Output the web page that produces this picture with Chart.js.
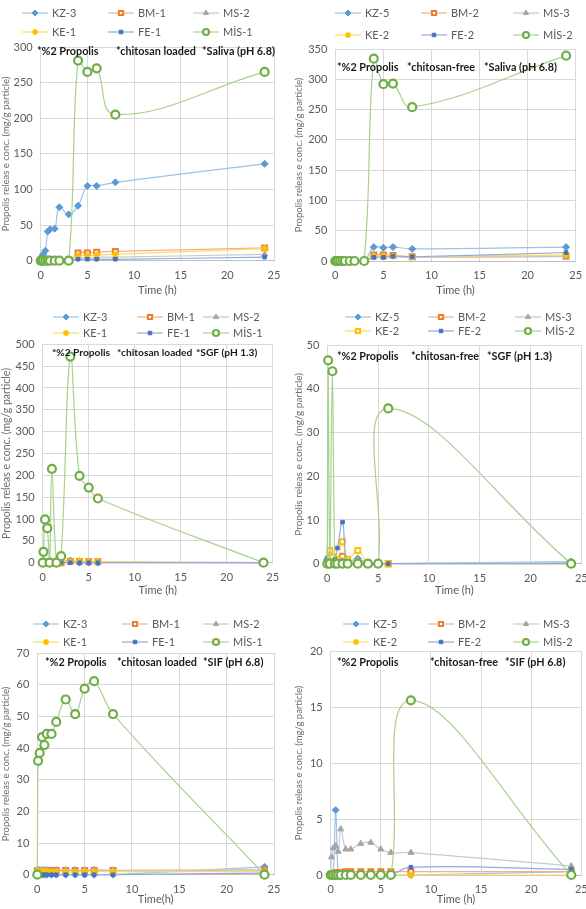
<!DOCTYPE html>
<html>
<head>
<meta charset="utf-8">
<script src="https://cdn.jsdelivr.net/npm/chart.js@4.4.1/dist/chart.umd.min.js"></script>
<style>
  html, body { margin: 0; padding: 0; background: #fff; }
  #page { position: relative; width: 586px; height: 909px; overflow: hidden; }
  #page canvas { position: absolute; }
</style>
</head>
<body>
<div id="page"></div>
<script>
// sampling times (h)
const timeFull = [0, 0.083, 0.25, 0.5, 0.75, 1, 1.5, 2, 3, 4, 5, 6, 8, 24];
const timeSGF = [0, 0.083, 0.25, 0.5, 0.75, 1, 1.5, 2, 3, 4, 5, 6, 24];

const loadedNames = ['KZ-3', 'BM-1', 'MS-2', 'KE-1', 'FE-1', 'MİS-1'];
const freeNames = ['KZ-5', 'BM-2', 'MS-3', 'KE-2', 'FE-2', 'MİS-2'];

const xTicks = [0, 5, 10, 15, 20, 25];
const yMax = [300, 350, 500, 50, 70, 20];
const yStep = [50, 50, 50, 10, 10, 5];

// values per panel, one row per series in the order of the names above
const salivaLoaded = [
  [0, 5, 9, 14, 41, 44, 45, 75, 65, 77, 105, 105, 110, 136],
  [0, 0, 0, 0, 0, 0, 0, 0, 0, 11, 11, 12, 13, 18],
  [0, 0, 0, 0, 0, 0, 0, 0, 0, 4, 4, 5, 5, 9],
  [0, 0, 0, 0, 0, 0, 0, 0, 0, 7, 7, 8, 9, 17],
  [0, 0, 0, 0, 0, 0, 0, 0, 0, 2, 2, 2, 2, 5],
  [0, 0, 0, 0, 0, 0, 0, 0, 0, 281, 265, 270, 205, 265]
];
const salivaFree = [
  [0, 0, 0, 0, 0, 0, 0, 0, 0, 23, 22, 23, 20, 23],
  [0, 0, 0, 0, 0, 0, 0, 0, 0, 10, 10, 9, 7, 8],
  [0, 0, 0, 0, 0, 0, 0, 0, 0, 6, 6, 7, 6, 7],
  [0, 0, 0, 0, 0, 0, 0, 0, 0, 8, 8, 8, 7, 10],
  [0, 0, 0, 0, 0, 0, 0, 0, 0, 6, 6, 8, 7, 14],
  [0, 0, 0, 0, 0, 0, 0, 0, 0, 334, 292, 293, 254, 339]
];
const sgfLoaded = [
  [3, 4, 3, 2, 1, 2, 1, 1, 5, 0, 0, 0, 0],
  [0, 0, 0, 0, 0, 0, 0, 0, 3, 3, 2, 2, 0],
  [1, 1, 1, 1, 1, 1, 1, 1, 2, 1, 1, 1, 0],
  [0, 0, 0, 0, 0, 0, 0, 0, 2, 5, 2, 2, 0],
  [0, 0, 0, 0, 0, 0, 0, 0, 0, 0, 0, 0, 0],
  [0, 25, 99, 79, 0, 215, 0, 15, 472, 199, 172, 147, 0]
];
const sgfFree = [
  [1, 1.5, 0.5, 0.3, 0.2, 0.3, 1, 0.3, 1.2, 0, 0, 0, 0.5],
  [0, 0, 0.3, 1, 0.3, 0.3, 1.7, 0.5, 0, 0, 0, 0, 0],
  [0.3, 0.5, 1, 0.5, 0.5, 0.5, 0.5, 0.5, 1, 0, 0, 0, 0.3],
  [0, 0, 3, 1.5, 0.5, 1, 5, 1, 3, 0, 0, 0, 0],
  [0, 0, 0, 0.5, 1, 3.6, 9.5, 0, 0, 0, 0, 0, 0],
  [0, 46.5, 0, 44, 0, 0, 0, 0, 0, 0, 0, 35.5, 0]
];
const sifLoaded = [
  [0, 0, 0, 0, 0, 0, 0, 0, 0, 0, 0, 0, 0, 2.5],
  [1.2, 1.2, 1.2, 1.2, 1.2, 1.3, 1.3, 1.3, 1.3, 1.3, 1.3, 1.3, 1.3, 1.5],
  [1.5, 1.5, 1.5, 1.5, 1.5, 1.5, 1.5, 1.5, 1.5, 1.5, 1.5, 1.6, 1.4, 1.5],
  [1, 1, 1, 1, 1, 1, 1, 1, 1, 0.8, 1, 1, 1, 1],
  [0, 0, 0, 0, 0, 0, 0, 0, 0, 0, 0, 0, 0, 0.5],
  [0, 36, 38.5, 43.5, 41, 44.5, 44.5, 48.3, 55.4, 50.8, 58.8, 61.2, 50.8, 0]
];
const sifFree = [
  [0, 0, 0, 5.8, 0, 0, 0, 0, 0, 0, 0, 0, 0, 0.3],
  [0, 0, 0.1, 0.2, 0.2, 0.2, 0.3, 0.3, 0.3, 0.3, 0.3, 0.3, 0.3, 0.3],
  [0, 1.6, 2.4, 2.6, 2.1, 4.1, 2.3, 2.3, 2.8, 2.9, 2.3, 2.0, 2.0, 0.8],
  [0, 0, 0, 0, 0, 0, 0, 0, 0, 0, 0, 0, 0, 0],
  [0, 0, 0, 0, 0, 0, 0, 0, 0, 0, 0, 0, 0.7, 0.5],
  [0, 0, 0, 0, 0, 0, 0, 0, 0, 0, 0, 0, 15.6, 0]
];

// series look (Excel office palette)
const markerColors = ['#5B9BD5', '#ED7D31', '#A5A5A5', '#FFC000', '#4472C4', '#70AD47'];
const lineColors = ['#9DC3E6', '#F4B183', '#C9C9C9', '#FFD966', '#8FAADC', '#A9D18E'];
const markerStyles = ['rectRot', 'rect', 'triangle', 'star', 'rect', 'circle'];
const markerSizes = [3.5, 3.5, 3.5, 3.5, 2.5, 4];
const markerFill = ['#5B9BD5', '#fff', '#A5A5A5', '#FFC000', '#4472C4', '#fff'];
const markerBorder = [1, 2, 1, 1.5, 1, 2.2];

const FONT = 'Lato, "Liberation Sans", sans-serif';
const yTitle = 'Propolis releas e conc. (mg/g particle)';

const panels = [
  { cell: [0, 0, 293, 300], plot: [40.7, 47, 274, 260.7], names: loadedNames, time: timeFull, values: salivaLoaded,
    xTitle: 'Time (h)', notes: [['*%2 Propolis', 37], ['*chitosan loaded', 116], ['*Saliva (pH 6.8)', 202]], noteY: 52,
    noteSize: 10.8, legCols: [22, 108, 193], legRows: [13, 32], yTitleSize: 9.5 },
  { cell: [293, 0, 307, 300], plot: [335.3, 49, 575.7, 261], names: freeNames, time: timeFull, values: salivaFree,
    xTitle: 'Time (h)', notes: [['*%2 Propolis', 337], ['*chitosan-free', 407], ['*Saliva (pH 6.8)', 484]], noteY: 68,
    noteSize: 10.8, legCols: [335, 421, 513], legRows: [13, 35], yTitleSize: 9.5 },
  { cell: [0, 300, 293, 300], plot: [42.7, 344.3, 272.7, 562.7], names: loadedNames, time: timeSGF, values: sgfLoaded,
    xTitle: 'Time (h)', notes: [['*%2 Propolis', 52], ['*chitosan loaded', 117], ['*SGF (pH 1.3)', 196]], noteY: 353,
    noteSize: 10.2, legCols: [53, 137, 203], legRows: [317, 333], yTitleSize: 10.5 },
  { cell: [293, 300, 307, 300], plot: [327.3, 345, 581.3, 563.7], names: freeNames, time: timeSGF, values: sgfFree,
    xTitle: 'Time (h)', notes: [['*%2 Propolis', 337], ['*chitosan-free', 411], ['*SGF (pH 1.3)', 487]], noteY: 357,
    noteSize: 10.8, legCols: [345, 428, 515], legRows: [317, 331], keSquare: true, yTitleSize: 10 },
  { cell: [0, 600, 293, 309], plot: [37.3, 653.3, 274, 874.7], names: loadedNames, time: timeFull, values: sifLoaded,
    xTitle: 'Time(h)', notes: [['*%2 Propolis', 45], ['*chitosan loaded', 117], ['*SIF (pH 6.8)', 203]], noteY: 663,
    noteSize: 10.8, legCols: [33, 122, 203], legRows: [624, 642], yTitleSize: 9.5 },
  { cell: [293, 600, 307, 309], plot: [330.7, 651, 581.3, 875], names: freeNames, time: timeFull, values: sifFree,
    xTitle: 'Time (h)', notes: [['*%2 Propolis', 337], ['*chitosan-free', 430], ['*SIF (pH 6.8)', 505]], noteY: 663,
    noteSize: 10.8, legCols: [343, 428, 513], legRows: [624, 642], yTitleSize: 9.5 }
];

function marker(ctx, style, r, bw, x, y) {
  if (Chart.helpers && Chart.helpers.drawPoint) {
    Chart.helpers.drawPoint(ctx, { pointStyle: style, radius: r, borderWidth: bw, rotation: 0 }, x, y);
  }
}

// legend in a 3 x 2 grid plus the note line inside the plot
const overlay = {
  id: 'overlay',
  afterDraw(chart, args, o) {
    const ctx = chart.ctx;
    const p = o.panel;
    const ox = p.cell[0], oy = p.cell[1];
    ctx.save();
    chart.data.datasets.forEach((ds, i) => {
      const x = p.legCols[i % 3] - ox;
      const y = p.legRows[Math.floor(i / 3)] - oy;
      const len = 26;
      ctx.strokeStyle = ds.borderColor;
      ctx.lineWidth = 1.2;
      ctx.beginPath();
      ctx.moveTo(x, y);
      ctx.lineTo(x + len, y);
      ctx.stroke();
      ctx.fillStyle = ds.pointBackgroundColor;
      ctx.strokeStyle = ds.pointBorderColor;
      ctx.lineWidth = ds.pointBorderWidth;
      marker(ctx, ds.pointStyle, Math.min(ds.pointRadius, 3), ds.pointBorderWidth, x + len / 2, y);
      ctx.fillStyle = '#595959';
      ctx.font = '11px ' + FONT;
      ctx.textBaseline = 'middle';
      ctx.textAlign = 'left';
      ctx.fillText(ds.label, x + len + 4, y);
    });
    ctx.fillStyle = '#1a1a1a';
    ctx.font = 'bold ' + p.noteSize + 'px ' + FONT;
    ctx.textBaseline = 'middle';
    p.notes.forEach(n => ctx.fillText(n[0], n[1] - ox, p.noteY - oy));
    ctx.restore();
  }
};

const page = document.getElementById('page');

panels.forEach((p, k) => {
  const cv = document.createElement('canvas');
  cv.width = p.cell[2];
  cv.height = p.cell[3];
  cv.style.left = p.cell[0] + 'px';
  cv.style.top = p.cell[1] + 'px';
  page.appendChild(cv);

  const datasets = p.names.map((name, i) => {
    const square = p.keSquare && i === 3;
    return {
      label: name,
      data: p.time.map((t, j) => ({ x: t, y: p.values[i][j] })),
      showLine: true,
      borderColor: lineColors[i],
      borderWidth: 1.2,
      tension: 0.4,
      pointStyle: square ? 'rect' : markerStyles[i],
      pointRadius: markerSizes[i],
      pointBackgroundColor: square ? '#fff' : markerFill[i],
      pointBorderColor: markerColors[i],
      pointBorderWidth: square ? 2 : markerBorder[i],
      order: 5 - i,
      clip: 6
    };
  });

  new Chart(cv, {
    type: 'scatter',
    data: { datasets: datasets },
    options: {
      responsive: false,
      animation: false,
      devicePixelRatio: 1,
      layout: {
        padding: {
          left: 0,
          top: p.plot[1] - p.cell[1],
          right: p.cell[0] + p.cell[2] - p.plot[2],
          bottom: 0
        }
      },
      plugins: {
        legend: { display: false },
        tooltip: { enabled: false },
        overlay: { panel: p }
      },
      scales: {
        x: {
          type: 'linear',
          min: xTicks[0],
          max: xTicks[xTicks.length - 1],
          afterBuildTicks: s => { s.ticks = xTicks.map(v => ({ value: v })); },
          afterFit: s => { s.height = p.cell[1] + p.cell[3] - p.plot[3]; },
          grid: { color: '#D9D9D9', drawTicks: false },
          border: { color: '#BFBFBF' },
          ticks: { color: '#595959', font: { family: FONT, size: 11 }, padding: 8 },
          title: { display: true, text: p.xTitle, color: '#595959', font: { family: FONT, size: 11 }, padding: { top: 0, bottom: 3 } }
        },
        y: {
          min: 0,
          max: yMax[k],
          ticks: { stepSize: yStep[k], color: '#595959', font: { family: FONT, size: 11 }, padding: 8 },
          afterFit: s => { s.width = p.plot[0] - p.cell[0]; },
          grid: { color: '#D9D9D9', drawTicks: false },
          border: { color: '#D9D9D9' },
          title: { display: true, text: yTitle, color: '#6b6b6b', font: { family: FONT, size: p.yTitleSize }, padding: { top: 0, bottom: 0 } }
        }
      }
    },
    plugins: [overlay]
  });
});
</script>
</body>
</html>
